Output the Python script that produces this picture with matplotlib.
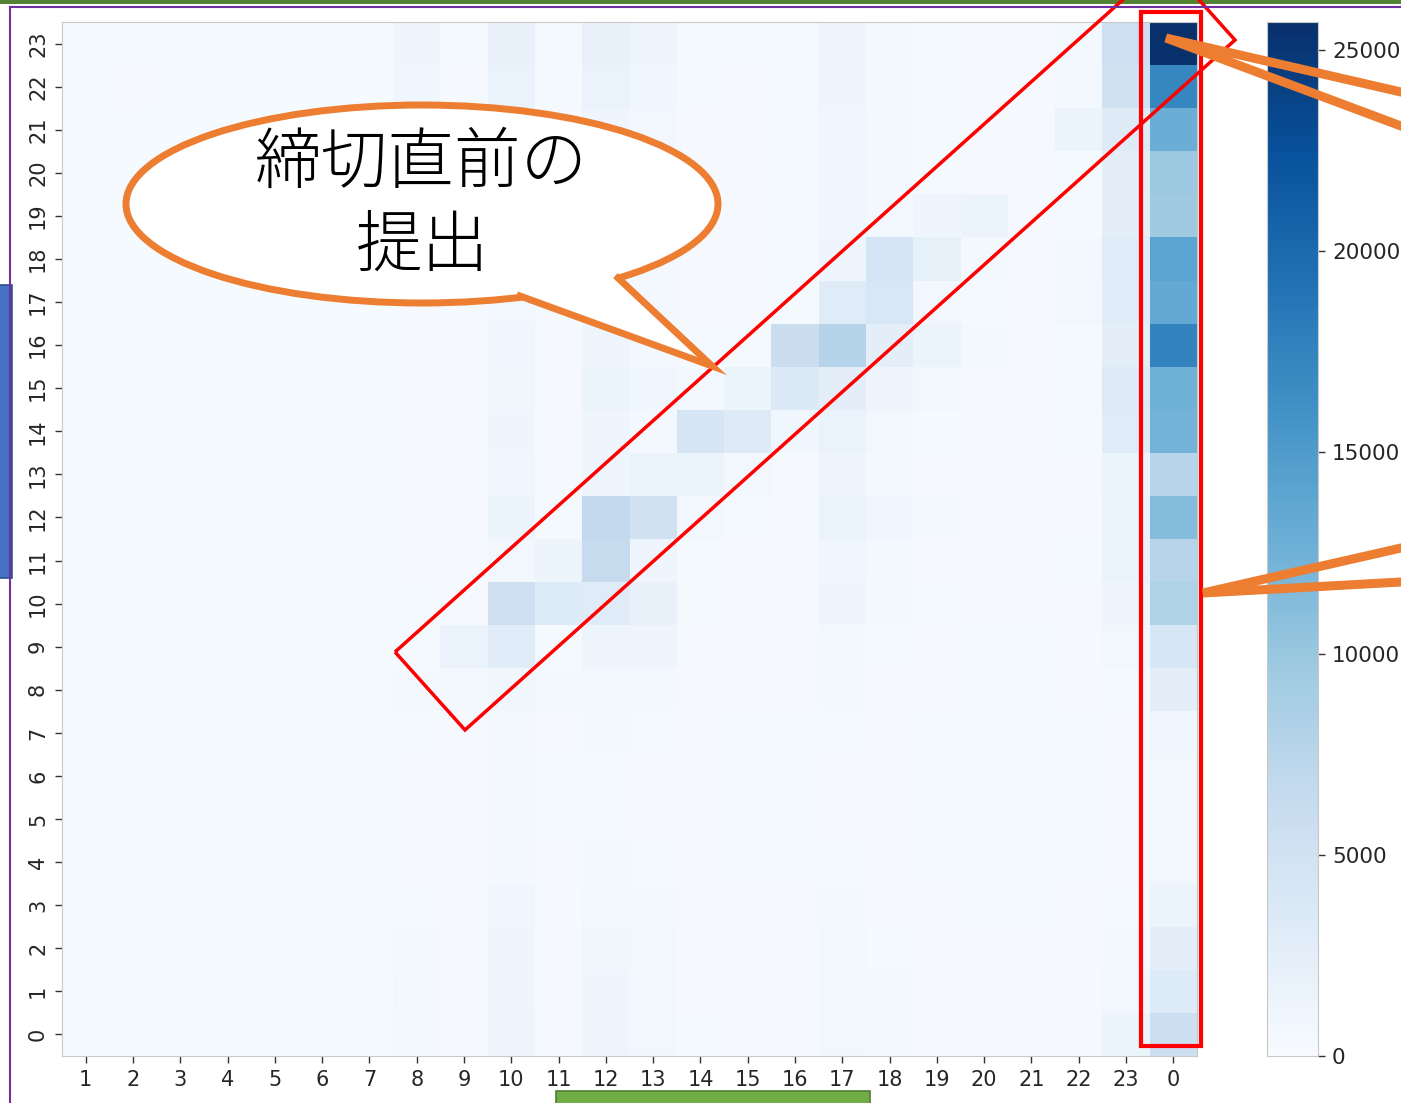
import matplotlib
matplotlib.use('Agg')
import matplotlib.pyplot as plt
from matplotlib.patches import Ellipse, Polygon, Rectangle
import numpy as np

# hour of day (rows, bottom to top) and submission hour columns
hours = list(range(24))
col_labels = [1, 2, 3, 4, 5, 6, 7, 8, 9, 10, 11, 12, 13, 14, 15, 16, 17, 18, 19, 20, 21, 22, 23, 0]
cbar_ticks = [0, 5000, 10000, 15000, 20000, 25000]
vmax = 25700

counts = [
    [300, 300, 300, 300, 300, 300, 300, 700, 400, 1400, 400, 1300, 900, 500, 400, 400, 900, 700, 400, 350, 350, 400, 1500, 5700],
    [300, 300, 300, 300, 300, 300, 300, 800, 400, 1300, 400, 1300, 800, 400, 400, 400, 900, 600, 400, 350, 350, 400, 900, 3400],
    [300, 300, 300, 300, 300, 300, 300, 600, 400, 1200, 400, 1100, 800, 400, 400, 400, 800, 500, 400, 350, 350, 400, 700, 2700],
    [300, 300, 300, 300, 300, 300, 300, 500, 400, 1000, 350, 800, 600, 400, 350, 350, 600, 400, 350, 300, 300, 350, 500, 1600],
    [300, 300, 300, 300, 300, 300, 300, 400, 350, 700, 350, 600, 450, 350, 300, 300, 500, 400, 300, 300, 300, 300, 400, 900],
    [300, 300, 300, 300, 300, 300, 300, 400, 350, 600, 300, 500, 400, 350, 300, 300, 400, 350, 300, 300, 300, 300, 400, 800],
    [300, 300, 300, 300, 300, 300, 300, 400, 350, 600, 300, 500, 400, 350, 300, 300, 400, 350, 300, 300, 300, 300, 400, 800],
    [300, 300, 300, 300, 300, 300, 300, 500, 400, 800, 400, 700, 500, 350, 300, 300, 500, 400, 300, 300, 300, 300, 400, 1000],
    [300, 300, 300, 300, 300, 300, 300, 600, 700, 1100, 600, 900, 700, 400, 350, 350, 600, 400, 350, 300, 300, 350, 500, 2600],
    [300, 300, 300, 300, 300, 300, 300, 500, 1700, 3000, 500, 1400, 1300, 400, 350, 350, 700, 450, 350, 300, 300, 350, 800, 4200],
    [300, 300, 300, 300, 300, 300, 300, 500, 350, 5600, 3400, 3100, 2000, 500, 400, 400, 1300, 700, 450, 350, 350, 400, 1300, 8200],
    [300, 300, 300, 300, 300, 300, 300, 400, 350, 800, 1600, 6400, 1300, 450, 400, 400, 1000, 600, 400, 350, 350, 500, 1800, 7700],
    [300, 500, 300, 300, 300, 300, 300, 400, 350, 1500, 500, 6800, 5100, 800, 450, 400, 1800, 1000, 700, 350, 350, 400, 1800, 11300],
    [300, 300, 300, 300, 300, 300, 300, 400, 350, 1000, 400, 1300, 1800, 1500, 800, 400, 1300, 600, 400, 350, 350, 400, 1600, 7700],
    [300, 300, 300, 300, 300, 300, 300, 400, 350, 1200, 400, 1300, 700, 4400, 3300, 1000, 1800, 800, 450, 350, 350, 500, 3100, 12300],
    [300, 300, 300, 300, 300, 300, 300, 400, 350, 1100, 400, 1500, 1000, 600, 1600, 3600, 2600, 1300, 800, 400, 350, 500, 3300, 12600],
    [500, 300, 300, 300, 300, 300, 300, 400, 350, 1000, 400, 1300, 700, 500, 500, 5900, 7800, 2600, 1600, 600, 400, 500, 2600, 17500],
    [300, 300, 300, 300, 300, 300, 300, 400, 350, 900, 400, 1000, 600, 400, 400, 500, 3100, 4100, 800, 450, 400, 800, 3000, 13400],
    [300, 300, 300, 300, 300, 300, 300, 400, 350, 900, 400, 1000, 600, 400, 400, 500, 1300, 4600, 2300, 600, 400, 600, 3100, 14100],
    [300, 300, 300, 300, 300, 300, 300, 400, 350, 900, 400, 900, 600, 400, 400, 450, 1000, 700, 1300, 1600, 400, 500, 2600, 9600],
    [300, 300, 300, 300, 300, 300, 300, 500, 350, 1100, 400, 1200, 700, 400, 400, 450, 1000, 600, 450, 400, 350, 500, 2600, 9800],
    [300, 300, 300, 300, 300, 300, 300, 600, 400, 1200, 400, 1300, 800, 400, 350, 450, 1000, 600, 450, 400, 400, 1500, 3300, 12900],
    [300, 400, 300, 300, 300, 300, 300, 1000, 400, 1800, 450, 1800, 1000, 500, 400, 450, 1300, 600, 450, 400, 400, 600, 5100, 17200],
    [300, 300, 300, 300, 300, 300, 300, 1300, 500, 2000, 500, 2000, 1300, 500, 450, 450, 1300, 700, 500, 400, 400, 600, 5600, 25700],
]

W, H = 1401, 1103
fig = plt.figure(figsize=(W / 100, H / 100), dpi=100)
fig.patch.set_facecolor('white')

ax = fig.add_axes([62 / W, 1 - 1056 / H, 1135 / W, 1034 / H])
mesh = ax.pcolormesh(np.array(counts), cmap='Blues', vmin=0, vmax=vmax)
ax.set_xticks(np.arange(len(col_labels)) + 0.5)
ax.set_xticklabels(col_labels)
ax.set_yticks(np.arange(len(hours)) + 0.5)
ax.set_yticklabels(hours, rotation=90, va='center')
ax.tick_params(length=5, width=1, color='#333333', labelsize=15, labelcolor='#262626', pad=5)
for s in ax.spines.values():
    s.set_color('#c8c8c8')

cax = fig.add_axes([1267 / W, 1 - 1056 / H, 51 / W, 1034 / H])
cb = fig.colorbar(mesh, cax=cax, ticks=cbar_ticks)
cb.outline.set_edgecolor('#c8c8c8')
cax.tick_params(length=5, width=1, color='#333333', labelsize=15.5, labelcolor='#262626', pad=5)

# slide annotations drawn on top, in pixel coordinates
ov = fig.add_axes([0, 0, 1, 1])
ov.set_xlim(0, W)
ov.set_ylim(H, 0)
ov.axis('off')
ov.patch.set_alpha(0)

orange = '#ed7d31'
ov.add_patch(Rectangle((0, 0), W, 4, color='#548235', lw=0))
ov.plot([10, W], [7, 7], color='#7030a0', lw=1.5)
ov.plot([10, 10], [7, H], color='#7030a0', lw=1.5)
ov.add_patch(Rectangle((-2, 285), 14, 293, facecolor='#4472c4', edgecolor='#2f528f', lw=1.2))
ov.add_patch(Rectangle((556, 1091), 314, 20, facecolor='#70ad47', edgecolor='#507e32', lw=1.2))

ov.add_patch(Polygon([(395, 652), (465, 730), (1235, 40), (1165, -38)], closed=True,
                     fill=False, edgecolor='red', lw=2.5))
ov.add_patch(Rectangle((1141, 12), 60, 1034, fill=False, edgecolor='red', lw=3))

ov.plot([W, 1166, W], [92, 38, 126], color=orange, lw=6.5, solid_joinstyle='miter')
ov.plot([W, 1203, W], [548, 593, 582], color=orange, lw=6.5, solid_joinstyle='miter')

ov.add_patch(Ellipse((422, 204), 592, 198, facecolor='white', edgecolor=orange, lw=5))
ov.add_patch(Polygon([(512, 280), (520, 297), (712, 366), (618, 278), (608, 268)], closed=True,
                     facecolor='white', edgecolor='none'))
ov.plot([520, 712, 618], [296, 366, 278], color=orange, lw=5, solid_joinstyle='miter')

jp = ['Noto Sans CJK JP', 'DejaVu Sans']
ov.text(421, 164, '締切直前の', family=jp, fontsize=48, weight='light', ha='center', va='center')
ov.text(422, 247, '提出', family=jp, fontsize=48, weight='light', ha='center', va='center')

fig.savefig('out.png', dpi=100)
